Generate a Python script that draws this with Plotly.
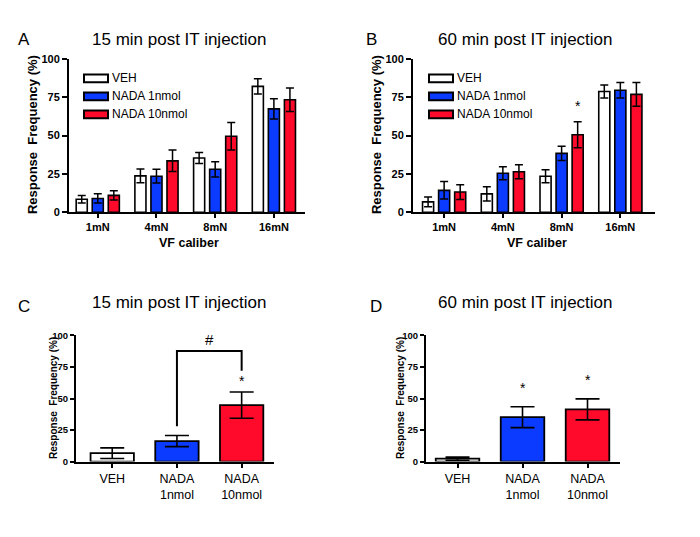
import plotly.graph_objects as go

# ---------------- data ----------------
calibers = ["1mN", "4mN", "8mN", "16mN"]
groups = ["VEH", "NADA 1nmol", "NADA 10nmol"]
group_ticks = ["VEH", "NADA<br>1nmol", "NADA<br>10nmol"]

# Panel A (15 min, by VF caliber)
a_veh = [8.5, 23.7, 35.4, 82.0]
a_veh_err = [2.5, 4.5, 3.6, 5.0]
a_n1 = [9.0, 23.5, 28.0, 67.4]
a_n1_err = [3.0, 4.5, 5.0, 6.6]
a_n10 = [11.0, 33.5, 49.5, 73.3]
a_n10_err = [3.0, 7.0, 9.0, 7.7]

# Panel B (60 min, by VF caliber)
b_veh = [6.8, 12.0, 23.5, 78.7]
b_veh_err = [3.2, 4.6, 4.2, 4.3]
b_n1 = [14.3, 25.4, 38.4, 79.5]
b_n1_err = [5.7, 4.2, 4.6, 5.1]
b_n10 = [13.2, 26.4, 50.5, 76.8]
b_n10_err = [4.8, 4.6, 8.5, 7.8]

# Panel C (15 min, overall)
c_mean = [6.7, 16.3, 44.8]
c_err = [4.2, 4.4, 10.4]

# Panel D (60 min, overall)
d_mean = [2.3, 35.2, 41.4]
d_err = [1.2, 8.3, 8.3]

y_ticks = [0, 25, 50, 75, 100]

# ---------------- style ----------------
W, H = 700, 537
FONT = "Liberation Sans, Arial, sans-serif"
BLUE = "#0b3bff"
RED = "#ff0a2a"
colors = ["white", BLUE, RED]
BARGAP = 0.18
BARGROUPGAP = 0.31


def px(x):
    return x / W


def py(y):
    return 1 - y / H


fig = go.Figure()

series_a = [(a_veh, a_veh_err), (a_n1, a_n1_err), (a_n10, a_n10_err)]
series_b = [(b_veh, b_veh_err), (b_n1, b_n1_err), (b_n10, b_n10_err)]

for axn, series in (("", series_a), ("2", series_b)):
    for name, (vals, errs), col in zip(groups, series, colors):
        fig.add_trace(go.Bar(
            x=calibers, y=vals, name=name,
            marker=dict(color=col, line=dict(color="black", width=1.6)),
            error_y=dict(type="data", array=errs, color="black", thickness=1.5, width=4),
            xaxis="x" + axn, yaxis="y" + axn, showlegend=False,
        ))

for axn, vals, errs in (("3", c_mean, c_err), ("4", d_mean, d_err)):
    fig.add_trace(go.Bar(
        x=group_ticks, y=vals, width=0.67,
        marker=dict(color=colors, line=dict(color="black", width=1.8)),
        error_y=dict(type="data", array=errs, color="black", thickness=1.6, width=12),
        xaxis="x" + axn, yaxis="y" + axn, showlegend=False,
    ))

common_x = dict(
    type="category", showline=True, linecolor="black", linewidth=2,
    ticks="outside", ticklen=4, tickwidth=2, tickcolor="black",
    showgrid=False, zeroline=False, fixedrange=True,
)
common_y = dict(
    range=[0, 100], tickvals=y_ticks, showline=True, linecolor="black", linewidth=2,
    ticks="outside", tickwidth=2, tickcolor="black",
    showgrid=False, zeroline=False, fixedrange=True,
)

bold11 = dict(family=FONT, size=11, color="black", weight="bold")
bold10 = dict(family=FONT, size=9.5, color="black", weight="bold")
norm13 = dict(family=FONT, size=12.5, color="black")

fig.update_layout(
    width=W, height=H, margin=dict(l=0, r=0, t=0, b=0),
    paper_bgcolor="white", plot_bgcolor="white",
    barmode="group", bargap=BARGAP, bargroupgap=BARGROUPGAP,
    font=dict(family=FONT, color="black"),
    xaxis=dict(common_x, domain=[px(69), px(305)], range=[-0.49, 3.53],
               anchor="y", tickfont=bold11),
    yaxis=dict(common_y, domain=[py(211), py(54)], anchor="x",
               ticklen=5, tickfont=bold11),
    xaxis2=dict(common_x, domain=[px(413), px(655)], range=[-0.53, 3.59],
                anchor="y2", tickfont=bold11),
    yaxis2=dict(common_y, domain=[py(211), py(54)], anchor="x2",
                ticklen=5, tickfont=bold11),
    xaxis3=dict(common_x, domain=[px(76), px(274)], range=[-0.56, 2.5],
                anchor="y3", tickfont=norm13),
    yaxis3=dict(common_y, domain=[py(466), py(337)], anchor="x3",
                ticklen=4, tickfont=bold10),
    xaxis4=dict(common_x, domain=[px(426), px(620)], range=[-0.485, 2.5],
                anchor="y4", tickfont=norm13),
    yaxis4=dict(common_y, domain=[py(466), py(337)], anchor="x4",
                ticklen=4, tickfont=bold10),
)

ann = []
shapes = []

# panel letters and titles
for letter, lx, ly in (("A", 24, 34), ("B", 371, 34), ("C", 24, 307), ("D", 376, 307)):
    ann.append(dict(text=letter, x=px(lx), y=py(ly), xref="paper", yref="paper",
                    showarrow=False, xanchor="center", yanchor="middle",
                    font=dict(family=FONT, size=17, color="black")))
for title, tx, ty in (("15 min post IT injection", 179, 34),
                      ("60 min post IT injection", 525, 34),
                      ("15 min post IT injection", 179, 303),
                      ("60 min post IT injection", 525, 303)):
    ann.append(dict(text=title, x=px(tx), y=py(ty), xref="paper", yref="paper",
                    showarrow=False, xanchor="center", yanchor="middle",
                    font=dict(family=FONT, size=17, color="black")))

# y axis titles
for ax, ay, size in ((32, 132, 13), (376, 132, 13), (53, 401, 10), (400, 401, 10)):
    ann.append(dict(text="Response  Frequency (%)", x=px(ax), y=py(ay),
                    xref="paper", yref="paper", showarrow=False, textangle=-90,
                    xanchor="center", yanchor="middle",
                    font=dict(family=FONT, size=size, color="black", weight="bold")))

# x axis titles
for ax in (189, 537):
    ann.append(dict(text="VF caliber", x=px(ax), y=py(242), xref="paper", yref="paper",
                    showarrow=False, xanchor="center", yanchor="middle",
                    font=dict(family=FONT, size=12.5, color="black", weight="bold")))

# custom legends (A and B)
for bx0 in (84, 429):
    for i, (name, col) in enumerate(zip(groups, colors)):
        cy = 74 + i * 18.4
        shapes.append(dict(type="rect", xref="paper", yref="paper",
                           x0=px(bx0), x1=px(bx0 + 24), y0=py(cy + 4), y1=py(cy - 4),
                           fillcolor=col, line=dict(color="black", width=2)))
        ann.append(dict(text=name, x=px(bx0 + 26), y=py(cy), xref="paper", yref="paper",
                        showarrow=False, xanchor="left", yanchor="middle",
                        font=dict(family=FONT, size=12, color="black")))

# significance markers
slot = (1 - BARGAP) / 3
i8 = calibers.index("8mN")
ann.append(dict(text="*", x=i8 + slot, y=b_n10[i8] + b_n10_err[i8] + 10,
                xref="x2", yref="y2", showarrow=False, yanchor="middle",
                font=dict(family=FONT, size=14, color="black")))

# panel C: star and bracket
ann.append(dict(text="*", x=2, y=c_mean[2] + c_err[2] + 9, xref="x3", yref="y3",
                showarrow=False, yanchor="middle",
                font=dict(family=FONT, size=14, color="black")))
shapes.append(dict(type="path", xref="x3", yref="y3",
                   path="M 1,28 L 1,87.6 L 2,87.6 L 2,72",
                   line=dict(color="black", width=2)))
ann.append(dict(text="#", x=1.5, y=97, xref="x3", yref="y3", showarrow=False,
                yanchor="middle", font=dict(family=FONT, size=15, color="black")))

# panel D stars
for i in (1, 2):
    ann.append(dict(text="*", x=i, y=d_mean[i] + d_err[i] + 15, xref="x4", yref="y4",
                    showarrow=False, yanchor="middle",
                    font=dict(family=FONT, size=14, color="black")))

fig.update_layout(annotations=ann, shapes=shapes)
fig.write_html(
    "out.html",
    config={"responsive": False, "displayModeBar": False},
    post_script="document.body.style.margin='0';document.body.style.overflow='hidden';",
)
